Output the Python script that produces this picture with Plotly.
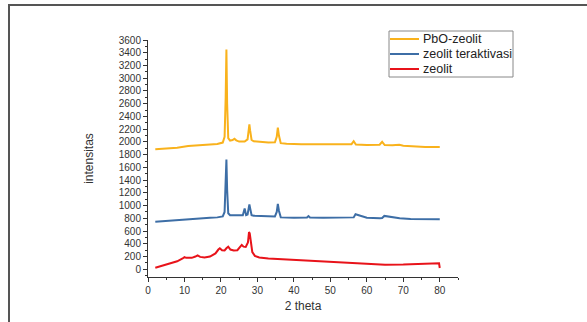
import plotly.graph_objects as go

# PbO-zeolit
x_pbo = [2, 5, 8, 11, 14, 17, 19, 20.5, 21.0, 21.3, 21.5, 21.7, 22.0, 22.5, 23.2, 23.7, 24.2, 25, 26.5, 27.3, 27.6, 27.8, 28.0, 28.4, 29, 31, 33, 34.8, 35.3, 35.6, 35.9, 36.4, 38, 42, 46, 50, 54, 55.8, 56.4, 57.0, 60, 63.5, 64.2, 64.9, 67, 68.9, 70, 73, 76, 80]
y_pbo = [1885, 1895, 1910, 1935, 1950, 1958, 1968, 1990, 2080, 2700, 3450, 2600, 2060, 2020, 2030, 2050, 2025, 2005, 2005, 2040, 2200, 2275, 2180, 2030, 2010, 2000, 1990, 1995, 2080, 2225, 2100, 1980, 1970, 1965, 1962, 1958, 1955, 1965, 2010, 1960, 1950, 1955, 2000, 1950, 1948, 1955, 1940, 1930, 1922, 1920]

# zeolit teraktivasi
x_akt = [2, 5, 8, 11, 14, 17, 19, 20.5, 21.0, 21.3, 21.5, 21.7, 22.0, 22.5, 24, 26.0, 26.5, 26.9, 27.3, 27.6, 27.8, 28.0, 28.4, 29, 32, 34.8, 35.3, 35.6, 35.9, 36.4, 40, 43.6, 44.0, 44.4, 48, 52, 55.9, 56.4, 56.9, 60, 63.6, 64.2, 64.8, 68, 69, 72, 76, 80]
y_akt = [745, 760, 775, 790, 800, 808, 815, 830, 900, 1300, 1725, 1250, 880, 850, 848, 850, 955, 850, 860, 960, 1020, 960, 850, 840, 830, 830, 900, 1025, 920, 815, 810, 812, 835, 812, 810, 808, 808, 815, 865, 810, 802, 805, 838, 805, 800, 790, 788, 786]

# zeolit
x_zeo = [2, 4, 6, 8, 9.5, 10.0, 10.5, 12, 13.0, 13.6, 14.3, 15.5, 17, 18.5, 19.3, 19.7, 20.3, 21.0, 21.5, 22.0, 22.6, 23.5, 24.5, 25.3, 25.7, 26.2, 26.8, 27.4, 27.7, 27.9, 28.2, 28.6, 29.3, 30.5, 33, 37, 40, 45, 50, 55, 60, 65, 70, 75, 79.5, 79.8, 80]
y_zeo = [25, 55, 85, 125, 170, 190, 180, 180, 200, 218, 195, 185, 200, 250, 310, 330, 300, 295, 330, 355, 310, 295, 300, 360, 382, 355, 350, 420, 585, 560, 400, 270, 210, 185, 170, 158, 150, 132, 115, 98, 85, 73, 76, 90, 105, 95, 20]

x_ticks = [0, 10, 20, 30, 40, 50, 60, 70, 80]
y_ticks = list(range(0, 3601, 200))

series = [
    ("PbO-zeolit", x_pbo, y_pbo, "#F9B21C"),
    ("zeolit teraktivasi", x_akt, y_akt, "#3D6EA6"),
    ("zeolit", x_zeo, y_zeo, "#E8131A"),
]

fig = go.Figure()
for name, xs, ys, col in series:
    fig.add_trace(go.Scatter(x=xs, y=ys, mode="lines", name=name,
                             line=dict(color=col, width=2), showlegend=False))

OFF = 0  # body margin removed via post_script
W, H = 587, 322
SL, SR, ST, SB = 148, 458, 40, 277
L, T = SL - OFF, ST - OFF
R = W - (SR - OFF)
B = H - (SB - OFF)

def px(sx):
    return (sx - SL) / (SR - SL)

def py(sy):
    return (SB - sy) / (SB - ST)

FONT = "Liberation Sans, Arial"
axis_common = dict(showgrid=False, zeroline=False, showline=True, linecolor="#333",
                   linewidth=1, ticks="outside", ticklen=4, tickcolor="#333",
                   automargin=False,
                   tickfont=dict(family=FONT, size=10, color="#333"))

shapes = [dict(type="rect", xref="paper", yref="paper",
               x0=px(9), x1=px(620), y0=py(360), y1=py(5),
               line=dict(color="#555", width=2), layer="below"),
          dict(type="rect", xref="paper", yref="paper",
               x0=px(389), x1=px(513), y0=py(77), y1=py(31),
               line=dict(color="#888", width=1), fillcolor="white", layer="above")]
annotations = []
leg_y = [39, 54, 69]
for (name, xs, ys, col), sy in zip(series, leg_y):
    shapes.append(dict(type="line", xref="paper", yref="paper",
                       x0=px(390), x1=px(419), y0=py(sy), y1=py(sy),
                       line=dict(color=col, width=2), layer="above"))
    annotations.append(dict(text=name, xref="paper", yref="paper",
                            x=px(421), y=py(sy), xanchor="left", yanchor="middle",
                            showarrow=False,
                            font=dict(family=FONT, size=12.5, color="#222")))

fig.update_layout(
    width=W, height=H,
    margin=dict(l=L, r=R, t=T, b=B, autoexpand=False),
    plot_bgcolor="white", paper_bgcolor="white",
    xaxis=dict(range=[0, 85], tickvals=x_ticks,
               minor=dict(dtick=5, ticks="outside", ticklen=2, tickcolor="#333"),
               title=dict(text="2 theta", font=dict(family=FONT, size=12, color="#333"), standoff=6),
               **axis_common),
    yaxis=dict(range=[-121, 3600], tickvals=y_ticks,
               minor=dict(dtick=100, ticks="outside", ticklen=2, tickcolor="#333"),
               title=dict(text="intensitas", font=dict(family=FONT, size=12, color="#333"), standoff=22),
               **axis_common),
    showlegend=False,
    shapes=shapes,
    annotations=annotations,
)

fig.write_html("out.html", config={"displayModeBar": False},
               post_script="document.body.style.margin='0';")
